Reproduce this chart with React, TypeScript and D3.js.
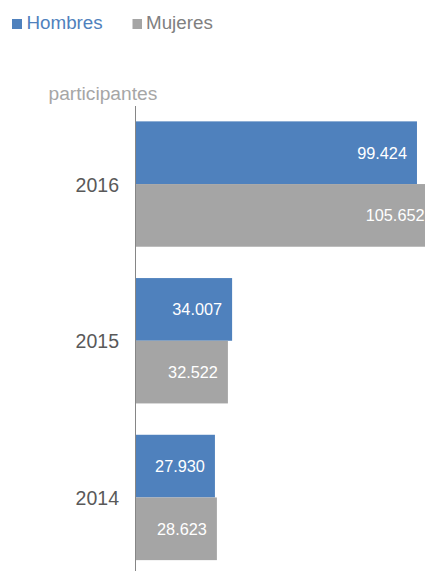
import React from "react";
import * as d3 from "d3";

const years = ["2016", "2015", "2014"];
const hombres = [99424, 34007, 27930];
const mujeres = [105652, 32522, 28623];
const seriesNames = ["Hombres", "Mujeres"];
const seriesColors = ["#4F81BD", "#A5A5A5"];
const legendTextColors = ["#4F81BD", "#808080"];

const W = 425;
const H = 571;

function fmt(v: number) {
  return d3.format(",")(v).replace(/,/g, ".");
}

export default function App() {
  const x = d3.scaleLinear().domain([0, 100000]).range([136, 418.6]);
  const y = d3
    .scaleBand<string>()
    .domain(years)
    .range([105.7, 575.8])
    .paddingInner(0.2)
    .paddingOuter(0.1);
  const ys = d3.scaleBand<string>().domain(seriesNames).range([0, y.bandwidth()]);
  const values = [hombres, mujeres];
  const font = "'Liberation Sans', Arial, sans-serif";

  return (
    <svg
      width={W}
      height={H}
      style={{ position: "absolute", left: 0, top: 0, display: "block" }}
      fontFamily={font}
    >
      <rect width={W} height={H} fill="#ffffff" />
      {/* legend */}
      <rect x={12} y={19} width={10} height={10} fill={seriesColors[0]} />
      <text x={26.5} y={29.3} fontSize={18.8} fill={legendTextColors[0]}>
        {seriesNames[0]}
      </text>
      <rect x={132.5} y={19} width={9.5} height={10} fill={seriesColors[1]} />
      <text x={146} y={29.3} fontSize={18.8} fill={legendTextColors[1]}>
        {seriesNames[1]}
      </text>
      {/* axis title */}
      <text x={48.5} y={100} fontSize={19.2} fill="#A6A6A6">
        participantes
      </text>
      {/* bars */}
      {years.map((yr, i) => (
        <g key={yr}>
          {seriesNames.map((s, j) => {
            const v = values[j][i];
            const top = (y(yr) as number) + (ys(s) as number);
            const h = ys.bandwidth();
            return (
              <g key={s}>
                <rect
                  x={x(0)}
                  y={top}
                  width={x(v) - x(0)}
                  height={h}
                  fill={seriesColors[j]}
                />
                <text
                  x={x(v) - 10}
                  y={top + h / 2 + 6}
                  fontSize={16.3}
                  fill="#ffffff"
                  textAnchor="end"
                >
                  {fmt(v)}
                </text>
              </g>
            );
          })}
          <text
            x={119}
            y={(y(yr) as number) + y.bandwidth() / 2 + 7.5}
            fontSize={19.5}
            fill="#595959"
            textAnchor="end"
          >
            {yr}
          </text>
        </g>
      ))}
      {/* axis line */}
      <line x1={135.5} x2={135.5} y1={106} y2={H} stroke="#868686" strokeWidth={1} />
    </svg>
  );
}
